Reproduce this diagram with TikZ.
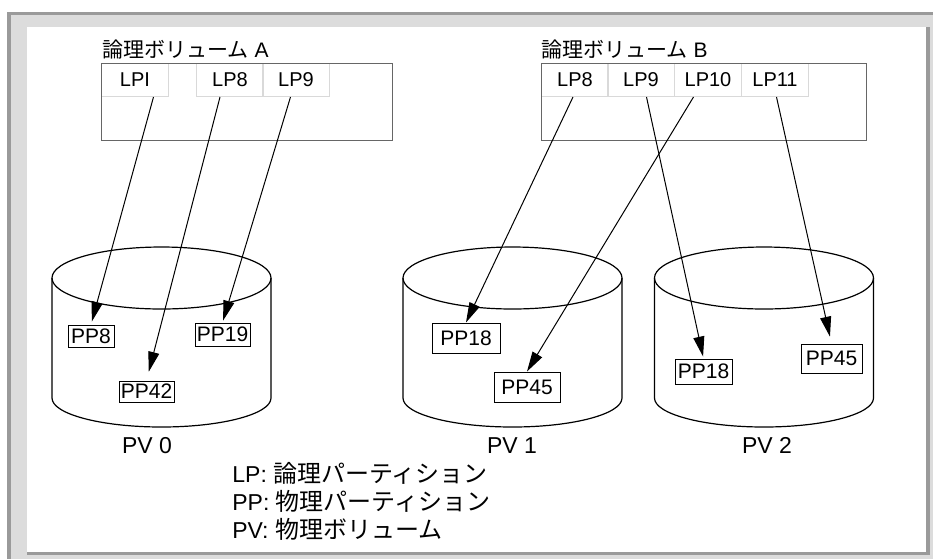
\documentclass[tikz,border=0pt]{standalone}
\usepackage{fontspec}
\setmainfont{Liberation Sans}
\newfontfamily\jp{Noto Sans CJK JP}
\usetikzlibrary{arrows.meta}

\definecolor{framedark}{HTML}{9A9A9A}
\definecolor{framelight}{HTML}{DCDCDC}
\definecolor{boxgray}{HTML}{666666}
\definecolor{cellgray}{HTML}{D9D9D9}

\tikzset{
	cell/.style={draw=cellgray, line width=0.5pt, minimum width=33.5pt, minimum height=16.5pt, inner sep=0pt, anchor=north west, font=\fontsize{10pt}{12pt}\selectfont},
	lvbox/.style={draw=boxgray, line width=0.6pt, minimum height=38.5pt, inner sep=0pt, anchor=north west},
	title/.style={anchor=base west, inner sep=0pt, font=\fontsize{10.5pt}{12pt}\selectfont},
	pp/.style={draw, fill=white, line width=0.5pt, inner sep=0.5pt, font=\fontsize{10.5pt}{12pt}\selectfont},
	pvlabel/.style={anchor=base, inner sep=0pt, font=\fontsize{11.5pt}{13pt}\selectfont},
	legend/.style={anchor=base west, inner sep=0pt, font=\fontsize{11.5pt}{13pt}\selectfont},
	disk/.style={line width=0.6pt},
	link/.style={line width=0.5pt, -{Triangle[length=10pt, width=5.5pt]}}
}

\begin{document}
\begin{tikzpicture}[x=0.5pt, y=-0.5pt]
		\useasboundingbox (0,0) rectangle (933,559);
		
		% Draw the frame
		\fill[framelight] (7,12) rectangle (933,559);
		\fill[framedark] (7,12) rectangle (933,15);
		\fill[framedark] (7,12) rectangle (11,559);
		\fill[white] (27,27) rectangle (926,552);
		\fill[framedark] (926,27) rectangle (930,555);
		\fill[framedark] (27,552) rectangle (930,555);
		
		% Draw the disks
		\def\rx{54.75pt} % Half width of a disk
		\foreach \cx in {161.5, 512.5, 764} {
			\draw[disk] (\cx,278) ellipse [x radius=\rx, y radius=15.5pt];
			\draw[disk] (\cx-109.5,278) -- (\cx-109.5,398)
				arc [start angle=180, end angle=360, x radius=\rx, y radius=14.5pt]
				-- (\cx+109.5,278);
		}
		\node[pvlabel] (pv0) at (147,453) {PV 0};
		\node[pvlabel] (pv1) at (512,453) {PV 1};
		\node[pvlabel] (pv2) at (767,453) {PV 2};
		
		% Logical volume A
		\node[cell] (aLPI) at (101,63) {LPI};
		\node[cell] (aLP8) at (196,63) {LP8};
		\node[cell] (aLP9) at (262,63) {LP9};
		\node[lvbox, minimum width=145.5pt] (lvA) at (101,63) {};
		\node[title] (tA) at (102,57) {{\jp 論理ボリューム} A};
		
		% Logical volume B
		\node[cell] (bLP8) at (541,63) {LP8};
		\node[cell] (bLP9) at (607,63) {LP9};
		\node[cell] (bLP10) at (674,63) {LP10};
		\node[cell] (bLP11) at (741,63) {LP11};
		\node[lvbox, minimum width=162.5pt] (lvB) at (541,63) {};
		\node[title] (tB) at (541,57) {{\jp 論理ボリューム} B};
		
		% Physical partitions
		\node[pp, minimum width=23pt, minimum height=11pt] (p0a) at (91,336) {PP8};
		\node[pp, minimum width=27.5pt, minimum height=11.5pt] (p0b) at (222.5,334.5) {PP19};
		\node[pp, minimum width=27.5pt, minimum height=10.5pt] (p0c) at (146.5,391.5) {PP42};
		\node[pp, minimum width=34pt, minimum height=15pt] (p1a) at (466,338) {PP18};
		\node[pp, minimum width=33pt, minimum height=15pt] (p1b) at (527,387) {PP45};
		\node[pp, minimum width=28.5pt, minimum height=12.5pt] (p2a) at (703.5,371.5) {PP18};
		\node[pp, minimum width=30.5pt, minimum height=14.5pt] (p2b) at (831.5,358.5) {PP45};
		
		% Map logical to physical partitions
		\draw[link, shorten >=1.5pt] ([xshift=9.25pt]aLPI.south) -- (p0a.north);
		\draw[link, shorten >=4.5pt] ([xshift=-5pt]aLP8.south) -- (p0c.north);
		\draw[link, shorten >=1pt] ([xshift=-2.75pt]aLP9.south) -- (p0b.north);
		\draw[link] ([xshift=-1pt]bLP8.south) -- (p1a.north);
		\draw[link, shorten >=1pt] ([xshift=2.75pt]bLP9.south) -- (p2a.north);
		\draw[link] ([xshift=-7.25pt]bLP10.south) -- (p1b.north);
		\draw[link, shorten >=3.5pt] ([xshift=0.75pt]bLP11.south) -- (p2b.north);
		
		% Legend
		\node[legend] (leg1) at (232,482) {LP: {\jp\fontsize{12pt}{13pt}\selectfont 論理パーティション}};
		\node[legend] (leg2) at (232,510) {PP: {\jp\fontsize{12pt}{13pt}\selectfont 物理パーティション}};
		\node[legend] (leg3) at (232,538) {PV: {\jp\fontsize{12pt}{13pt}\selectfont 物理ボリューム}};
	\end{tikzpicture}
\end{document}
